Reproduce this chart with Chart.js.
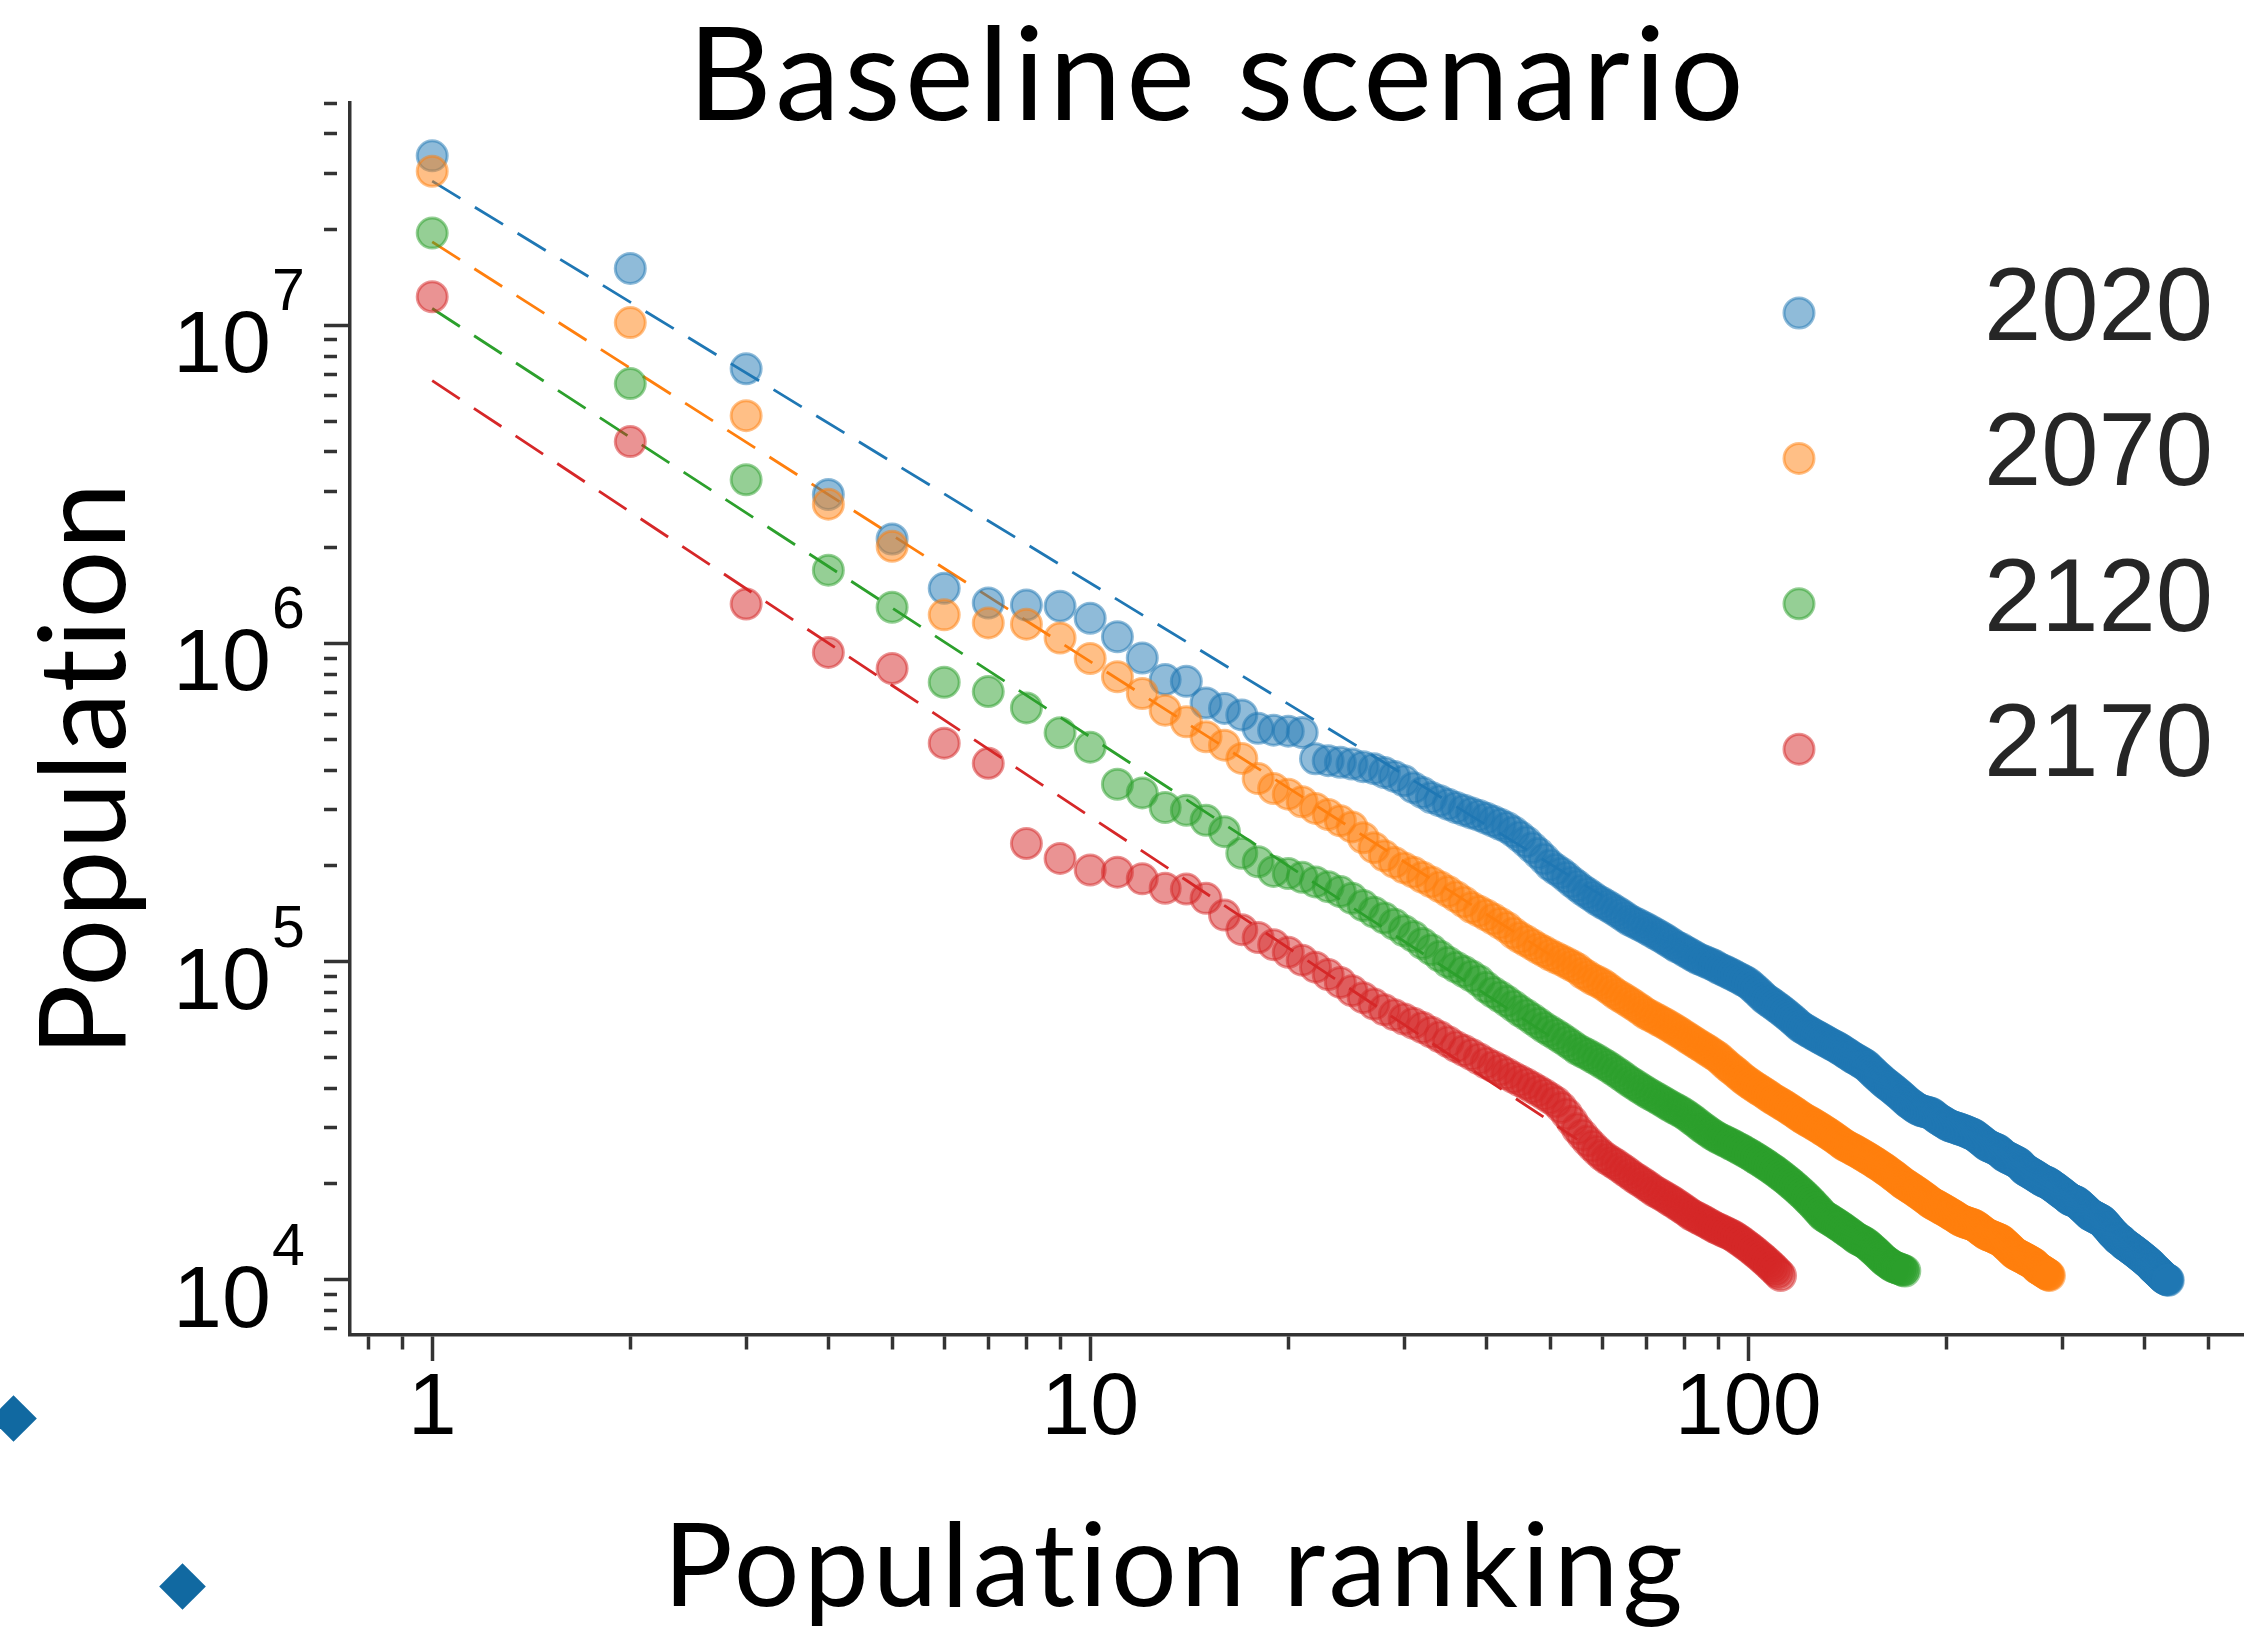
<!DOCTYPE html>
<html lang="en">
<head>
  <meta charset="UTF-8">
  <title>Baseline scenario</title>
  <script src="https://cdn.jsdelivr.net/npm/chart.js"></script>
  <style>
    body {
      margin: 0;
      background: #fff;
    }
    .wrap {
      position: relative;
      width: 2244px;
      height: 1638px;
      overflow: hidden;
    }
    .diamond {
      position: absolute;
      width: 33px;
      height: 33px;
      background: #1169a1;
      transform: rotate(45deg);
    }
  </style>
</head>
<body>
  <div class="wrap">
    <canvas id="zipfChart" width="2244" height="1638"></canvas>
    <!-- two stray slide bullets in the bottom left corner -->
    <div class="diamond" style="left:-3px; top:1402px;"></div>
    <div class="diamond" style="left:166px; top:1570px;"></div>
  </div>

  <script>
    // Population (thousands) by ranking, rank = position in the list
    const years = ["2020", "2070", "2120", "2170"];

    const pop2020 = [
      34100, 15100, 7300, 2940, 2130, 1490, 1340, 1320, 1310, 1200,
      1050, 900, 770, 760, 650, 625, 596, 541, 534, 530,
      525, 434, 428, 423, 418, 410, 404, 393, 382, 370,
      352, 340, 328, 320, 312, 305, 299, 293, 288, 282,
      276, 270, 264, 256, 247, 238, 228, 219, 210, 201,
      195, 190, 184, 178, 173, 168, 164, 160, 156, 153,
      150, 147, 144, 141, 138, 135, 133, 131, 129, 127,
      125, 123, 121, 119, 117, 115, 113, 111, 110, 108,
      106.5, 105, 103.5, 102, 101, 100, 99, 98, 97, 95.5,
      94.5, 93.5, 92.5, 91.5, 90.5, 89.5, 88.5, 87.5, 86.5, 85.5,
      84, 82.5, 81, 79.5, 78, 76.5, 75.5, 74.5, 73.5, 72.5,
      71.5, 70.5, 69.5, 68.5, 67.5, 66.5, 65.5, 64.5, 63.5, 62.5,
      61.8, 61.2, 60.6, 60.0, 59.4, 58.8, 58.3, 57.8, 57.3, 56.8,
      56.3, 55.8, 55.3, 54.8, 54.4, 54.0, 53.5, 53.0, 52.5, 52.0,
      51.5, 51.0, 50.5, 50.0, 49.6, 49.2, 48.8, 48.4, 48.0, 47.6,
      47.2, 46.6, 46.0, 45.4, 44.8, 44.2, 43.7, 43.2, 42.7, 42.2,
      41.7, 41.3, 40.9, 40.5, 40.1, 39.7, 39.3, 38.9, 38.5, 38.1,
      37.7, 37.3, 36.9, 36.5, 36.1, 35.8, 35.5, 35.2, 34.9, 34.6,
      34.4, 34.2, 34.0, 33.9, 33.8, 33.7, 33.6, 33.5, 33.4, 33.3,
      33.0, 32.7, 32.4, 32.1, 31.9, 31.7, 31.5, 31.3, 31.1, 30.9,
      30.7, 30.5, 30.4, 30.3, 30.2, 30.1, 30.0, 29.9, 29.8, 29.7,
      29.6, 29.5, 29.4, 29.3, 29.2, 29.0, 28.9, 28.8, 28.7, 28.6,
      28.4, 28.2, 28.0, 27.8, 27.6, 27.4, 27.2, 27.0, 26.8, 26.6,
      26.4, 26.3, 26.2, 26.1, 26.0, 25.9, 25.8, 25.7, 25.6, 25.5,
      25.3, 25.1, 24.9, 24.7, 24.5, 24.4, 24.3, 24.2, 24.1, 24.0,
      23.9, 23.8, 23.7, 23.6, 23.5, 23.4, 23.3, 23.2, 23.0, 22.8,
      22.6, 22.4, 22.2, 22.1, 22.0, 21.9, 21.8, 21.7, 21.6, 21.5,
      21.4, 21.3, 21.2, 21.1, 21.0, 20.9, 20.8, 20.7, 20.6, 20.5,
      20.4, 20.35, 20.3, 20.25, 20.2, 20.1, 20.0, 19.9, 19.8, 19.7,
      19.6, 19.5, 19.4, 19.3, 19.2, 19.1, 19.0, 18.9, 18.8, 18.7,
      18.6, 18.5, 18.4, 18.3, 18.2, 18.1, 18.0, 17.9, 17.85, 17.8,
      17.75, 17.7, 17.65, 17.6, 17.55, 17.5, 17.4, 17.3, 17.2, 17.1,
      17.0, 16.9, 16.8, 16.7, 16.6, 16.5, 16.4, 16.3, 16.2, 16.1,
      16.0, 15.95, 15.9, 15.85, 15.8, 15.75, 15.7, 15.65, 15.6, 15.55,
      15.5, 15.45, 15.4, 15.35, 15.3, 15.2, 15.1, 15.0, 14.9, 14.8,
      14.7, 14.6, 14.5, 14.4, 14.3, 14.2, 14.1, 14.0, 13.9, 13.85,
      13.8, 13.7, 13.6, 13.5, 13.45, 13.4, 13.35, 13.3, 13.25, 13.2,
      13.1, 13.0, 12.95, 12.9, 12.85, 12.8, 12.75, 12.7, 12.65, 12.6,
      12.55, 12.5, 12.45, 12.4, 12.35, 12.3, 12.25, 12.2, 12.15, 12.1,
      12.05, 12.0, 11.95, 11.9, 11.85, 11.8, 11.75, 11.7, 11.65, 11.6,
      11.55, 11.5, 11.45, 11.4, 11.35, 11.3, 11.25, 11.2, 11.15, 11.1,
      11.0, 10.95, 10.9, 10.85, 10.8, 10.75, 10.7, 10.65, 10.6, 10.55,
      10.5, 10.45, 10.4, 10.35, 10.3, 10.25, 10.2, 10.16, 10.12, 10.08,
      10.05, 10.02, 10.0, 9.98, 9.96
    ];

    const pop2070 = [
      30500, 10200, 5200, 2740, 2020, 1230, 1160, 1150, 1040, 897,
      786, 696, 617, 567, 509, 479, 435, 376, 350, 336,
      318, 303, 290, 277, 265, 245, 228, 215, 205, 197,
      191, 184, 178, 172, 166, 160, 154, 148, 144, 140,
      136, 132, 128, 123, 119, 116, 113, 110, 107.5, 105,
      103, 101, 99, 97, 95, 92, 90, 88, 86.5, 85,
      83, 81, 79, 77.5, 76, 74.5, 73, 71.5, 70, 68.5,
      67.5, 66.5, 65.5, 64.5, 63.5, 62.5, 61.5, 60.5, 59.5, 58.5,
      57.5, 56.6, 55.7, 54.8, 54.0, 53.2, 52.4, 51.6, 50.8, 50.0,
      49.0, 48.0, 47.0, 46.2, 45.4, 44.6, 43.8, 43.0, 42.3, 41.7,
      41.1, 40.5, 40.0, 39.5, 39.0, 38.5, 38.0, 37.5, 37.0, 36.6,
      36.2, 35.8, 35.4, 35.0, 34.6, 34.2, 33.8, 33.4, 33.0, 32.6,
      32.2, 31.9, 31.6, 31.3, 31.0, 30.7, 30.4, 30.1, 29.8, 29.5,
      29.2, 28.9, 28.6, 28.3, 28.0, 27.7, 27.4, 27.1, 26.8, 26.5,
      26.3, 26.1, 25.9, 25.7, 25.5, 25.3, 25.1, 24.9, 24.7, 24.5,
      24.3, 24.1, 23.9, 23.7, 23.5, 23.3, 23.1, 22.9, 22.7, 22.5,
      22.3, 22.1, 21.9, 21.7, 21.5, 21.3, 21.1, 20.9, 20.7, 20.5,
      20.3, 20.1, 19.95, 19.8, 19.65, 19.5, 19.35, 19.2, 19.05, 18.9,
      18.75, 18.6, 18.45, 18.3, 18.15, 18.0, 17.85, 17.7, 17.55, 17.4,
      17.3, 17.2, 17.1, 17.0, 16.9, 16.8, 16.7, 16.6, 16.5, 16.4,
      16.3, 16.2, 16.1, 16.0, 15.9, 15.8, 15.7, 15.6, 15.5, 15.4,
      15.3, 15.25, 15.2, 15.15, 15.1, 15.05, 15.0, 14.95, 14.9, 14.85,
      14.8, 14.7, 14.6, 14.5, 14.4, 14.3, 14.2, 14.1, 14.0, 13.9,
      13.85, 13.8, 13.75, 13.7, 13.65, 13.6, 13.55, 13.5, 13.45, 13.4,
      13.35, 13.3, 13.2, 13.1, 13.0, 12.9, 12.8, 12.7, 12.6, 12.5,
      12.4, 12.3, 12.2, 12.1, 12.05, 12.0, 11.95, 11.9, 11.85, 11.8,
      11.75, 11.7, 11.65, 11.6, 11.55, 11.5, 11.45, 11.4, 11.35, 11.3,
      11.25, 11.2, 11.1, 11.0, 10.9, 10.85, 10.8, 10.75, 10.7, 10.65,
      10.6, 10.55, 10.5, 10.45, 10.4, 10.35, 10.3
    ];

    const pop2120 = [
      19500, 6560, 3270, 1700, 1300, 755, 706, 627, 524, 472,
      361, 339, 305, 299, 278, 256, 219, 206, 192, 189,
      184, 178, 172, 166, 158, 150, 143, 137, 131, 125,
      120, 114, 109, 104, 99.5, 96, 93, 90, 87, 83,
      80, 77.5, 75, 72.5, 70, 68, 66, 64, 62, 60.5,
      59, 57.5, 56, 54.5, 53, 52, 51, 50, 49, 48,
      47, 46, 45, 44, 43, 42, 41.2, 40.4, 39.6, 38.9,
      38.2, 37.6, 37.0, 36.4, 35.8, 35.2, 34.7, 34.2, 33.7, 33.2,
      32.6, 32.0, 31.4, 30.8, 30.2, 29.7, 29.2, 28.7, 28.3, 27.9,
      27.6, 27.3, 27.0, 26.7, 26.4, 26.1, 25.8, 25.5, 25.2, 24.9,
      24.6, 24.3, 24.0, 23.7, 23.4, 23.1, 22.8, 22.5, 22.2, 21.9,
      21.6, 21.3, 21.0, 20.7, 20.4, 20.1, 19.8, 19.5, 19.2, 18.9,
      18.6, 18.3, 18.0, 17.7, 17.4, 17.1, 16.8, 16.5, 16.2, 15.9,
      15.75, 15.6, 15.45, 15.3, 15.15, 15.0, 14.85, 14.7, 14.55, 14.4,
      14.25, 14.1, 13.95, 13.8, 13.65, 13.5, 13.4, 13.3, 13.2, 13.1,
      13.0, 12.85, 12.7, 12.55, 12.4, 12.25, 12.1, 11.95, 11.8, 11.65,
      11.5, 11.4, 11.3, 11.2, 11.1, 11.0, 10.95, 10.9, 10.85, 10.8,
      10.75, 10.7, 10.65
    ];

    const pop2170 = [
      12300, 4310, 1330, 937, 834, 486, 420, 235, 211, 194,
      191, 182, 170, 169, 158, 140, 126, 119, 113, 107,
      101, 96, 91, 86, 81, 77, 73.5, 70.5, 68, 66,
      64, 62, 60, 58, 56, 54, 52.5, 51, 49.5, 48,
      46.8, 45.6, 44.4, 43.2, 42.2, 41.2, 40.2, 39.2, 38.2, 37.2,
      36.2, 34.8, 33.2, 31.5, 29.8, 28.5, 27.3, 26.3, 25.4, 24.6,
      24.0, 23.5, 23.0, 22.5, 22.0, 21.5, 21.0, 20.6, 20.2, 19.8,
      19.4, 19.0, 18.7, 18.4, 18.1, 17.8, 17.5, 17.2, 16.9, 16.6,
      16.3, 16.0, 15.8, 15.6, 15.4, 15.2, 15.0, 14.8, 14.6, 14.45,
      14.3, 14.15, 14.0, 13.85, 13.7, 13.5, 13.3, 13.1, 12.9, 12.7,
      12.5, 12.3, 12.1, 11.9, 11.7, 11.5, 11.3, 11.1, 10.9, 10.7,
      10.5, 10.3
    ];

    // dashed power-law fits: [first rank, last rank] and population (thousands) at those ranks
    const fitRanks = [[1, 60], [1, 50], [1, 50], [1, 55]];
    const fitPops = [[28400, 161], [18300, 105], [11300, 58.2], [6700, 27.6]];

    // axis ticks
    const xTickValues = [0.8, 0.9, 1, 2, 3, 4, 5, 6, 7, 8, 9, 10, 20, 30, 40, 50, 60, 70, 80, 90, 100, 200, 300, 400, 500];
    const xTickLabels = [1, 10, 100];
    const yTickValues = [
      7e3, 8e3, 9e3,
      1e4, 2e4, 3e4, 4e4, 5e4, 6e4, 7e4, 8e4, 9e4,
      1e5, 2e5, 3e5, 4e5, 5e5, 6e5, 7e5, 8e5, 9e5,
      1e6, 2e6, 3e6, 4e6, 5e6, 6e6, 7e6, 8e6, 9e6,
      1e7, 2e7, 3e7, 4e7, 5e7
    ];
    const yTickExponents = [4, 5, 6, 7];

    const colors = ["31,119,180", "255,127,14", "44,160,44", "214,39,40"];
    const series = [pop2020, pop2070, pop2120, pop2170];

    const datasets = [];
    series.forEach((pop, i) => {
      datasets.push({
        label: years[i],
        data: pop.map((v, k) => ({ x: k + 1, y: v * 1000 })),
        backgroundColor: "rgba(" + colors[i] + ",0.5)",
        borderColor: "rgba(" + colors[i] + ",0.5)",
        borderWidth: 3,
        pointRadius: 15,
        pointHoverRadius: 15,
        order: 4 - i
      });
    });
    fitRanks.forEach((ranks, i) => {
      datasets.push({
        label: "fit " + years[i],
        data: ranks.map((r, k) => ({ x: r, y: fitPops[i][k] * 1000 })),
        showLine: true,
        borderColor: "rgb(" + colors[i] + ")",
        borderWidth: 2.8,
        borderDash: [33, 17],
        pointRadius: 0,
        pointHoverRadius: 0,
        order: 10
      });
    });

    const isDecade = v => Math.abs(Math.log10(v) - Math.round(Math.log10(v))) < 1e-9;

    // titles, 10^n labels and the legend drawn on top
    const decorations = {
      id: "decorations",
      afterDraw(chart) {
        const ctx = chart.ctx;
        const yScale = chart.scales.y;
        ctx.save();
        ctx.fillStyle = "#000";
        ctx.textBaseline = "alphabetic";

        yTickExponents.forEach(e => {
          const py = yScale.getPixelForValue(Math.pow(10, e));
          ctx.font = '88px "Liberation Sans"';
          ctx.textAlign = "right";
          ctx.fillText("10", 271, py + 47);
          ctx.font = '59px "Liberation Sans"';
          ctx.textAlign = "left";
          ctx.fillText(String(e), 272, py - 15);
        });

        // spacing also keeps Lato from joining "ti"
        ctx.textAlign = "center";
        ctx.font = "130px Lato";
        ctx.letterSpacing = "4.5px";
        ctx.fillText("Baseline scenario", 1218, 120);
        ctx.font = "116px Lato";
        ctx.letterSpacing = "4px";
        ctx.fillText("Population ranking", 1175, 1606);

        ctx.save();
        ctx.translate(125, 769);
        ctx.rotate(-Math.PI / 2);
        ctx.font = "120px Lato";
        ctx.letterSpacing = "1px";
        ctx.fillText("Population", 0, 0);
        ctx.restore();

        // legend
        ctx.letterSpacing = "0px";
        ctx.font = '103px "Liberation Sans"';
        ctx.textAlign = "left";
        years.forEach((label, i) => {
          const cy = 313 + i * 145.4;
          ctx.beginPath();
          ctx.arc(1799, cy, 15, 0, Math.PI * 2);
          ctx.fillStyle = "rgba(" + colors[i] + ",0.5)";
          ctx.fill();
          ctx.lineWidth = 3;
          ctx.strokeStyle = "rgba(" + colors[i] + ",0.5)";
          ctx.stroke();
          ctx.fillStyle = "#262626";
          ctx.fillText(label, 1984, cy + 27);
        });
        ctx.restore();
      }
    };

    const axisColor = "#333";

    new Chart(document.getElementById("zipfChart"), {
      type: "scatter",
      data: { datasets: datasets },
      options: {
        responsive: false,
        animation: false,
        devicePixelRatio: 1,
        layout: {
          autoPadding: false,
          padding: { top: 103, left: 0, right: 0, bottom: 0 }
        },
        plugins: {
          legend: { display: false },
          title: { display: false },
          tooltip: { enabled: false }
        },
        scales: {
          x: {
            type: "logarithmic",
            min: 0.75,
            max: 567,
            afterFit: scale => { scale.height = 303; },
            afterBuildTicks: scale => {
              scale.ticks = xTickValues.map(v => ({ value: v, major: xTickLabels.includes(v) }));
            },
            grid: {
              drawOnChartArea: false,
              color: axisColor,
              tickColor: axisColor,
              tickWidth: 3.5,
              tickLength: 26,
              tickBorderDash: c => (c.tick && c.tick.major) ? [] : [13, 200]
            },
            border: { color: axisColor, width: 3.5 },
            ticks: {
              autoSkip: false,
              maxRotation: 0,
              minRotation: 0,
              padding: -4,
              color: "#000",
              font: { family: "Liberation Sans", size: 88 },
              callback: v => xTickLabels.includes(v) ? String(v) : ""
            }
          },
          y: {
            type: "logarithmic",
            min: 6700,
            max: 5e7,
            afterFit: scale => { scale.width = 350; },
            afterBuildTicks: scale => {
              scale.ticks = yTickValues.map(v => ({ value: v, major: isDecade(v) }));
            },
            grid: {
              drawOnChartArea: false,
              color: axisColor,
              tickColor: axisColor,
              tickWidth: 3.5,
              tickLength: 26,
              tickBorderDash: c => (c.tick && c.tick.major) ? [] : [13, 200]
            },
            border: { color: axisColor, width: 3.5 },
            ticks: { display: false, autoSkip: false }
          }
        }
      },
      plugins: [decorations]
    });
  </script>
</body>
</html>
